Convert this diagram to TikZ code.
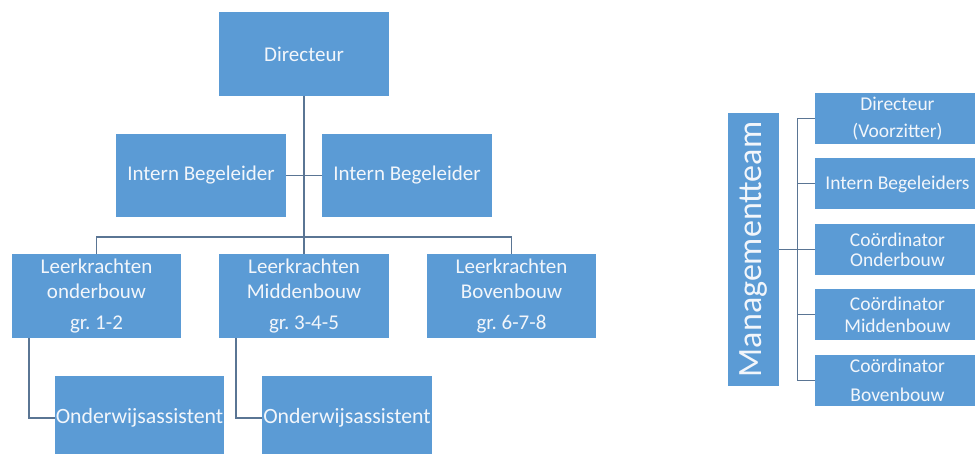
\documentclass[tikz,border=0pt]{standalone}
\usepackage{fontspec}
\setmainfont{Carlito}
\definecolor{boxblue}{HTML}{5B9BD5}
\definecolor{linecol}{HTML}{5A7594}
\definecolor{txtcol}{HTML}{F2F6FB}
\begin{document}
\frenchspacing
\begin{tikzpicture}[x=1pt,y=-1pt,
  orgbox/.style={rectangle, fill=boxblue, draw=none, text=txtcol, align=center, inner sep=0pt,
    font=\fontsize{21}{25}\selectfont},
  mbox/.style={rectangle, fill=boxblue, draw=none, text=txtcol, align=center, inner sep=0pt,
    minimum width=165pt, minimum height=51pt, font=\fontsize{19.5}{21}\selectfont},
  conn/.style={draw=linecol, line width=1.4pt}]
\path[use as bounding box, clip] (0,0) rectangle (975,454);
\fill[white] (0,0) rectangle (975,454);
% left chart
\node[orgbox, minimum width=170pt, minimum height=84pt] (dir) at (304,54) {Directeur};
\node[orgbox, minimum width=170pt, minimum height=83pt] (ibl) at (201,175.5) {Intern Begeleider};
\node[orgbox, minimum width=170pt, minimum height=83pt] (ibr) at (407,175.5) {Intern Begeleider};
\node[orgbox, minimum width=169pt, minimum height=84pt] (lo) at (96.5,296) {Leerkrachten\\onderbouw\\[6pt]gr. 1-2};
\node[orgbox, minimum width=170pt, minimum height=84pt] (lm) at (304,296) {Leerkrachten\\Middenbouw\\[6pt]gr. 3-4-5};
\node[orgbox, minimum width=169pt, minimum height=84pt] (lb) at (511.5,296) {Leerkrachten\\Bovenbouw\\[6pt]gr. 6-7-8};
\node[orgbox, minimum width=169pt, minimum height=84pt, font=\fontsize{21.8}{25}\selectfont] (oa1) at (139.5,418) {Onderwijsassistent};
\node[orgbox, minimum width=170pt, minimum height=84pt, font=\fontsize{21.8}{25}\selectfont] (oa2) at (347,418) {Onderwijsassistent};
\coordinate (bar) at (304,237);
\draw[conn] (dir.south) -- (lm.north);
\draw[conn] (ibl.east) -- (ibr.west);
\draw[conn] (lo.north) |- (bar) -| (lb.north);
\draw[conn] ([xshift=17pt]lo.south west) |- (oa1.west);
\draw[conn] ([xshift=17pt]lm.south west) |- (oa2.west);
% right chart
\node[rectangle, fill=boxblue, text=txtcol, inner sep=0pt, rotate=90,
  minimum width=273pt, minimum height=51pt, font=\fontsize{34}{36}\selectfont] (mt) at (753.5,249.5) {Managementteam};
\node[mbox] (m1) at (897.5,118.5) {Directeur\\[6pt](Voorzitter)};
\node[mbox] (m2) at (897.5,184) {Intern Begeleiders};
\node[mbox] (m3) at (897.5,249.5) {Coördinator\\[-1pt]Onderbouw};
\node[mbox] (m4) at (897.5,315) {Coördinator\\[1pt]Middenbouw};
\node[mbox] (m5) at (897.5,380.5) {Coördinator\\[8pt]Bovenbouw};
\coordinate (rt) at (797,249.5);
\draw[conn, line width=1pt] (mt.south) -- (rt);
\foreach \m in {m1,m2,m3,m4,m5}{
  \draw[conn, line width=1pt] (\m.west) -| (rt);
}
\end{tikzpicture}
\end{document}
